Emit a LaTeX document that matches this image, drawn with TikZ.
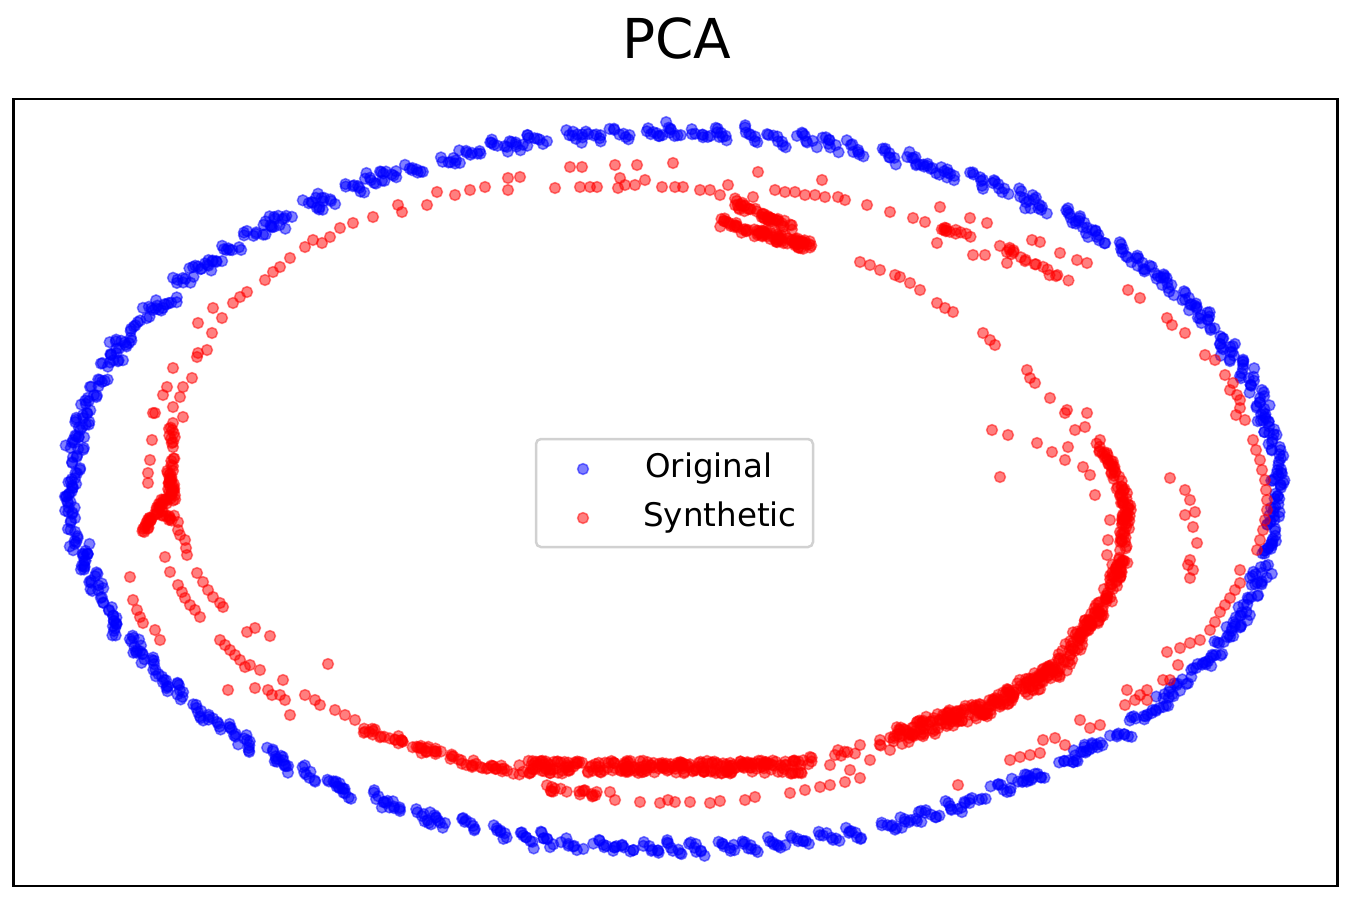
\documentclass[tikz,border=0pt]{standalone}
\usepackage{fontspec}
\setmainfont{DejaVu Sans}
\usetikzlibrary{calc}
\tikzset{
  bdot/.style={fill=blue, draw=blue, fill opacity=0.5, draw opacity=0.5, line width=1.5pt},
  rdot/.style={fill=red, draw=red, fill opacity=0.5, draw opacity=0.5, line width=1.5pt},
  frame/.style={draw=black, line width=2.5pt},
  legframe/.style={draw=black!18, line width=2.5pt, fill=white, fill opacity=0.8, rounded corners=5pt},
  legtext/.style={anchor=base west, inner sep=0pt, font=\fontsize{32.5}{36}\selectfont},
}
\newcommand\rseg[6]{%
  \foreach \ii in {1,...,#5}{%
    \pgfmathsetmacro\myt{rnd}%
    \pgfmathsetmacro\mypx{#1+(#3-#1)*\myt+#6*rand}%
    \pgfmathsetmacro\mypy{#2+(#4-#2)*\myt+#6*rand}%
    \path[rdot] (\mypx,\mypy) circle (5.4pt);}}
\begin{document}
\begin{tikzpicture}[x=1pt,y=-1pt]
\useasboundingbox (0,0) rectangle (1350,900);
\pgfmathsetseed{4242}
% title
\node[anchor=base, inner sep=0pt, font=\fontsize{55}{60}\selectfont] (title) at (677,58) {PCA};
% ---------------- blue ring ----------------
\foreach \k in {0,...,143}{
  \pgfmathsetmacro\bth{2.5*\k+0.8*rand}
  \pgfmathsetmacro\brj{1+0.007*rand}
  \pgfmathsetmacro\bcx{675+603*\brj*cos(\bth)}
  \pgfmathsetmacro\bcy{490-358*\brj*sin(\bth)}
  \pgfmathsetmacro\btx{-sin(\bth)}
  \pgfmathsetmacro\bty{-0.594*cos(\bth)}
  \pgfmathsetmacro\bL{sqrt(\btx*\btx+\bty*\bty)}
  \pgfmathsetmacro\bux{\btx/\bL}
  \pgfmathsetmacro\buy{\bty/\bL}
  \pgfmathsetmacro\bal{30+12*rand}
  \pgfmathsetmacro\bca{\bux*cos(\bal)-\buy*sin(\bal)}
  \pgfmathsetmacro\bsb{\bux*sin(\bal)+\buy*cos(\bal)}
  \foreach \j in {-3.5,-2.5,-1.5,-0.5,0.5,1.5,2.5,3.5}{
    \path[bdot] ({\bcx+(\j)*2.8*\bca+3*rand},{\bcy+(\j)*2.8*\bsb+3*rand}) circle (5.4pt);
  }
}
% ---------------- red: sparse explicit points ----------------
\foreach \a/\b in {155/413,163/395,167/387,173/407,173/368,180/397,183/387,192/378,197/357,198/353,207/350,198/323,212/333,213/308,222/318,233/303,240/297,247/292,265/280,273/272,280/267,290/258,305/247,313/240,322/243,330/237,340/228,353/223,373/217,398/205,402/212,427/205,437/192,455/195,470/190,485/187,508/178,520/177,508/190,555/188,570/167,582/167,580/187,590/187,597/187,615/165,620/178,618/188,625/185,635/185,637/165,645/180,662/187,675/187,683/187,673/163,700/190,710/190,720/195,728/185,753/197,758/172,775/190,785/192,795/192,805/195,815/195,822/180,825/197,838/197,845/200,867/205,890/212,913/218,925/222,940/207,937/243,970/218,987/223,973/255,985/255,1007/263,1032/240,1040/242,1060/253,1077/260,1087/263,1128/290,1140/298,1167/318,1172/325,1185/333,1205/355,1215/360,1225/375,1230/390,1240/400,1236/415,
153/413,152/440,150/460,148/473,148/483,183/417}
  \path[rdot] (\a,\b) circle (5.4pt);
\foreach \a/\b in {130/577,133/600,137/610,140/617,143/623,155/630,160/640,165/557,170/572,178/585,182/592,185/598,190/605,195/610,200/617,185/540,186/548,187/555,197/573,203/582,208/590,213/597,220/603,223/607,178/530,180/535,220/640,225/645,230/650,235/655,240/660,245/667,250/665,260/670,247/632,255/628,270/636,328/664,228/690,255/688,268/690,272/695,283/680,285/700,290/715,280/695,305/695,315/700,320/705,335/710,345/715,355/720,
610/792,615/800,640/802,660/803,668/800,675/802,690/802,710/803,720/801,745/800,755/797,790/793,805/790,820/787,830/785,845/782,860/778,
810/757,830/765,860/745,880/740,870/760,890/750,835/755,850/770}
  \path[rdot] (\a,\b) circle (5.4pt);
\foreach \a/\b in {958/785,1010/760,1020/757,1030/755,1040/753,1043/740,1055/738,1065/745,1080/720,1090/728,1100/725,1125/705,1135/700,1140/695,1147/690,1163/680,1167/652,1180/648,1190/643,1200/640,1178/665,1170/680,1127/690,1147/700,1210/630,1215/622,1220/612,1225/605,1230/598,1235/590,1240/583,1240/570,
1233/383,1237/395,1240/408,1245/420,1253/440,1256/450,1260/460,1262/470,1265/480,1266/490,1267/500,1267/510,1265/520,1263/530,1260/540,1257/550,
1170/478,1185/490,1190/500,1195/512,1185/515,1193/527,1197/543,1190/560,1193/570,1190/578,1188/565,
1087/413,1085/427,1075/430,1068/447,1083/467,1090/475,1095/495,1110/520,1108/540,1107/555,1100/440,992/430,1008/435,1037/443,1052/452,1065/460,1000/477,1065/413,1050/398,1035/383,1027/370,1030/378,983/333,990/340,995/345,900/277,910/283,920/290,937/303,945/308,953/312,860/262,870/265,880/270,895/275,1067/410}
  \path[rdot] (\a,\b) circle (5.4pt);
% ---------------- red: denser strands ----------------
\rseg{172}{420}{172}{465}{14}{3}
\rseg{170}{468}{172}{500}{34}{3.5}
\rseg{166}{498}{143}{532}{36}{3.5}
\rseg{160}{512}{176}{520}{12}{3}
\rseg{940}{227}{993}{243}{12}{3}
\rseg{1000}{245}{1067}{282}{18}{3}
\rseg{365}{728}{420}{748}{24}{4}
\rseg{420}{748}{470}{762}{22}{4}
\rseg{470}{762}{520}{772}{22}{4}
\rseg{540}{787}{597}{795}{18}{3}
% top V
\rseg{720}{222}{812}{247}{90}{4.5}
\rseg{733}{202}{790}{226}{45}{4}
% main dense band
\rseg{523}{767}{800}{767}{260}{6.5}
\rseg{800}{765}{900}{738}{14}{6}
\rseg{897}{737}{1000}{702}{130}{8}
\rseg{1000}{702}{1060}{665}{95}{8}
\rseg{1060}{665}{1100}{610}{70}{7}
\rseg{1100}{610}{1122}{560}{50}{6}
\rseg{1122}{560}{1127}{510}{38}{5}
\rseg{1127}{510}{1115}{470}{30}{5}
\rseg{1115}{470}{1097}{445}{22}{4}
% ---------------- frame ----------------
\draw[frame] (13.5,99) rectangle (1337.5,886);
% ---------------- legend ----------------
\path[legframe] (536,439) rectangle (813,547);
\path[bdot] (583,469) circle (5.4pt);
\path[rdot] (583,518) circle (5.4pt);
\node[legtext] (lorig) at (645,477) {Original};
\node[legtext] (lsyn) at (643,526) {Synthetic};
\end{tikzpicture}
\end{document}
